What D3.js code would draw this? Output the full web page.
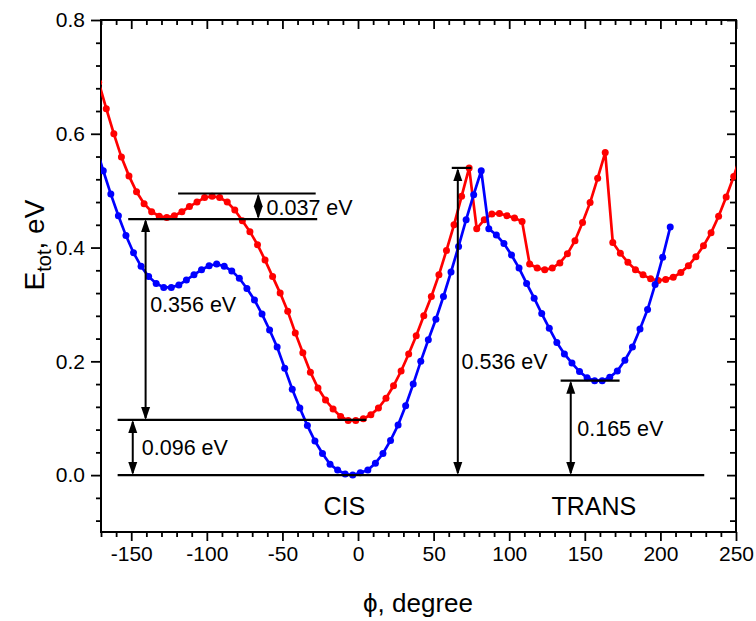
<!DOCTYPE html>
<html><head><meta charset="utf-8">
<script src="https://cdn.jsdelivr.net/npm/d3@7"></script>
<style>
body{margin:0;background:#fff}
text{font-family:"Liberation Sans",Arial,sans-serif;fill:#000}
</style>
</head><body>
<svg id="chart" width="756" height="621"></svg>
<script>
// ---- data ----
const bluePhi = [-173.5,-168.5,-163.5,-158.5,-153.5,-148.5,-143.5,-138.5,-133.5,-128.5,-123.5,-118.5,-113.5,-108.5,-103.5,-98.5,-93.5,-88.5,-83.5,-78.5,-73.5,-68.5,-63.5,-58.5,-53.5,-48.5,-43.5,-38.5,-33.5,-28.5,-23.5,-18.5,-13.5,-8.5,-3.5,1.5,6.5,11.5,16.5,21.5,26.5,31.5,36.5,41.5,46.5,51.5,56.5,61.5,66.5,71.5,76.5,81.5,86.5,91.5,96.5,101.5,106.5,111.5,116.5,121.5,126.5,131.5,136.5,141.5,146.5,151.5,156.5,161.5,166.5,171.5,176.5,181.5,186.5,191.5,196.5,201.5,206.5];
const blueE = [0.578,0.535,0.494,0.456,0.421,0.391,0.367,0.349,0.337,0.330,0.330,0.334,0.343,0.352,0.361,0.368,0.371,0.367,0.359,0.346,0.328,0.308,0.283,0.255,0.225,0.188,0.151,0.118,0.087,0.060,0.038,0.019,0.009,0.002,0.000,0.004,0.009,0.021,0.038,0.061,0.088,0.122,0.160,0.200,0.238,0.274,0.314,0.357,0.402,0.449,0.493,0.535,0.433,0.422,0.407,0.387,0.364,0.337,0.311,0.284,0.258,0.233,0.213,0.197,0.182,0.171,0.166,0.166,0.172,0.183,0.202,0.225,0.257,0.291,0.335,0.383,0.436];
const redPhi = [-171.5,-166.5,-161.5,-156.5,-151.5,-146.5,-141.5,-136.5,-131.5,-126.5,-121.5,-116.5,-111.5,-106.5,-101.5,-96.5,-91.5,-86.5,-81.5,-76.5,-71.5,-66.5,-61.5,-56.5,-51.5,-46.5,-41.5,-36.5,-31.5,-26.5,-21.5,-16.5,-11.5,-6.5,-1.5,3.5,8.5,13.5,18.5,23.5,28.5,33.5,38.5,43.5,48.5,53.5,58.5,63.5,68.5,73.5,78.5,83.5,88.5,93.5,98.5,103.5,108.5,113.5,118.5,123.5,128.5,133.5,138.5,143.5,148.5,153.5,158.5,163.5,168.5,173.5,178.5,183.5,188.5,193.5,198.5,203.5,208.5,213.5,218.5,223.5,228.5,233.5,238.5,243.5,248.5,253.5];
const redE = [0.690,0.644,0.600,0.559,0.526,0.498,0.477,0.463,0.455,0.453,0.456,0.463,0.472,0.480,0.488,0.490,0.488,0.480,0.466,0.447,0.428,0.405,0.378,0.349,0.320,0.288,0.250,0.215,0.181,0.153,0.132,0.116,0.103,0.096,0.096,0.099,0.106,0.118,0.135,0.157,0.183,0.213,0.245,0.280,0.314,0.352,0.395,0.440,0.490,0.540,0.433,0.449,0.459,0.460,0.456,0.452,0.446,0.371,0.364,0.361,0.364,0.373,0.389,0.412,0.444,0.479,0.522,0.567,0.409,0.390,0.374,0.361,0.352,0.345,0.342,0.344,0.348,0.356,0.368,0.384,0.403,0.426,0.455,0.489,0.525,0.565];
const xTickLabels = [-150,-100,-50,0,50,100,150,200,250];
const xMinorTicks = [-170,-160,-140,-130,-120,-110,-90,-80,-70,-60,-40,-30,-20,-10,10,20,30,40,60,70,80,90,110,120,130,140,160,170,180,190,210,220,230,240];
const yTickLabels = [0.0,0.2,0.4,0.6,0.8];
const yMinorTicks = [-0.08,-0.04,0.04,0.08,0.12,0.16,0.24,0.28,0.32,0.36,0.44,0.48,0.52,0.56,0.64,0.68,0.72,0.76];
// annotation geometry in data units
const hLines = [
  {x1:-159, x2:229, y:0.0},
  {x1:-159, x2:5.5, y:0.097},
  {x1:-152, x2:-27, y:0.450},
  {x1:-119, x2:-28, y:0.495},
  {x1:62, x2:75, y:0.540},
  {x1:134, x2:173, y:0.166}
];
const arrows = [
  {x:-66, y1:0.450, y2:0.495},
  {x:-140.5, y1:0.097, y2:0.450},
  {x:-149, y1:0.0, y2:0.097},
  {x:66, y1:0.0, y2:0.540},
  {x:140.7, y1:0.0, y2:0.166}
];
const labels = [
  {t:"0.037 eV", x:-60.5, y:0.457},
  {t:"0.356 eV", x:-137.5, y:0.286},
  {t:"0.096 eV", x:-143, y:0.036},
  {t:"0.536 eV", x:68.5, y:0.186},
  {t:"0.165 eV", x:145, y:0.069}
];
const regionLabels = [{t:"CIS", x:-9, y:-0.07},{t:"TRANS", x:156, y:-0.07}];

// ---- layout ----
const L=101, R=736, T=20, B=532;
const svg = d3.select("#chart");
const x = d3.scaleLinear().domain([-170,250]).range([L,R]);
const y = d3.scaleLinear().domain([-0.1,0.8]).range([B,T]);

svg.append("clipPath").attr("id","clip").append("rect")
  .attr("x",L).attr("y",T).attr("width",R-L).attr("height",B-T);

function styleAxis(g){ g.select(".domain").remove(); g.selectAll("line").attr("stroke","#000").attr("stroke-width",1.8); }

// bottom
svg.append("g").attr("transform",`translate(0,${B})`)
  .call(d3.axisBottom(x).tickValues(xTickLabels).tickSize(9).tickPadding(6).tickFormat(d=>String(d)))
  .call(styleAxis).call(g=>g.selectAll("text").style("font-size","21px").attr("dy","0.71em").attr("y",14));
svg.append("g").attr("transform",`translate(0,${B})`)
  .call(d3.axisBottom(x).tickValues(xMinorTicks).tickSize(5).tickFormat(""))
  .call(styleAxis);
// top (inward)
svg.append("g").attr("transform",`translate(0,${T})`)
  .call(d3.axisBottom(x).tickValues(xTickLabels).tickSize(9).tickFormat(""))
  .call(styleAxis);
svg.append("g").attr("transform",`translate(0,${T})`)
  .call(d3.axisBottom(x).tickValues(xMinorTicks).tickSize(5).tickFormat(""))
  .call(styleAxis);
// left
svg.append("g").attr("transform",`translate(${L},0)`)
  .call(d3.axisLeft(y).tickValues(yTickLabels).tickSize(10).tickPadding(6).tickFormat(d3.format(".1f")))
  .call(styleAxis).call(g=>g.selectAll("text").style("font-size","21px"));
svg.append("g").attr("transform",`translate(${L},0)`)
  .call(d3.axisLeft(y).tickValues(yMinorTicks).tickSize(5).tickFormat(""))
  .call(styleAxis);
// right (inward)
svg.append("g").attr("transform",`translate(${R},0)`)
  .call(d3.axisLeft(y).tickValues(yTickLabels).tickSize(9).tickFormat(""))
  .call(styleAxis);
svg.append("g").attr("transform",`translate(${R},0)`)
  .call(d3.axisLeft(y).tickValues(yMinorTicks).tickSize(6).tickFormat(""))
  .call(styleAxis);

// frame
svg.append("rect").attr("x",L).attr("y",T).attr("width",R-L).attr("height",B-T)
  .attr("fill","none").attr("stroke","#000").attr("stroke-width",2);

// curves
const plot = svg.append("g").attr("clip-path","url(#clip)");
function series(phi, E, color){
  const pts = phi.map((p,i)=>[p,E[i]]);
  plot.append("path").datum(pts)
    .attr("d", d3.line().x(d=>x(d[0])).y(d=>y(d[1])))
    .attr("fill","none").attr("stroke",color).attr("stroke-width",2.7);
  plot.append("g").selectAll("circle").data(pts).join("circle")
    .attr("cx",d=>x(d[0])).attr("cy",d=>y(d[1])).attr("r",3.5).attr("fill",color);
}
series(redPhi, redE, "#ff0000");
series(bluePhi, blueE, "#0000ff");

// annotations
const ann = svg.append("g");
ann.selectAll("line.h").data(hLines).join("line")
  .attr("x1",d=>x(d.x1)).attr("x2",d=>x(d.x2)).attr("y1",d=>y(d.y)).attr("y2",d=>y(d.y))
  .attr("stroke","#000").attr("stroke-width",2.2);
const headL=13, headW=4.5;
arrows.forEach(a=>{
  const xa=x(a.x), yb=y(a.y1), yt=y(a.y2);
  ann.append("line").attr("x1",xa).attr("x2",xa).attr("y1",yb-2).attr("y2",yt+2)
    .attr("stroke","#000").attr("stroke-width",2);
  ann.append("path").attr("d",`M${xa},${yt}L${xa-headW},${yt+headL}L${xa+headW},${yt+headL}Z`).attr("fill","#000");
  ann.append("path").attr("d",`M${xa},${yb}L${xa-headW},${yb-headL}L${xa+headW},${yb-headL}Z`).attr("fill","#000");
});
ann.selectAll("text.lab").data(labels).join("text")
  .attr("x",d=>x(d.x)).attr("y",d=>y(d.y)).style("font-size","21.5px").text(d=>d.t);
ann.selectAll("text.reg").data(regionLabels).join("text")
  .attr("x",d=>x(d.x)).attr("y",d=>y(d.y)).attr("text-anchor","middle").style("font-size","25px").text(d=>d.t);

// axis titles
svg.append("text").attr("x",418).attr("y",612).attr("text-anchor","middle").style("font-size","26px").text("\u03D5, degree");
const yt = svg.append("text").attr("transform","translate(44,245) rotate(-90)").attr("text-anchor","middle").style("font-size","28px");
yt.append("tspan").text("E");
yt.append("tspan").attr("dy",7).style("font-size","20px").text("tot");
yt.append("tspan").attr("dy",-7).text(", eV");
</script>
</body></html>
